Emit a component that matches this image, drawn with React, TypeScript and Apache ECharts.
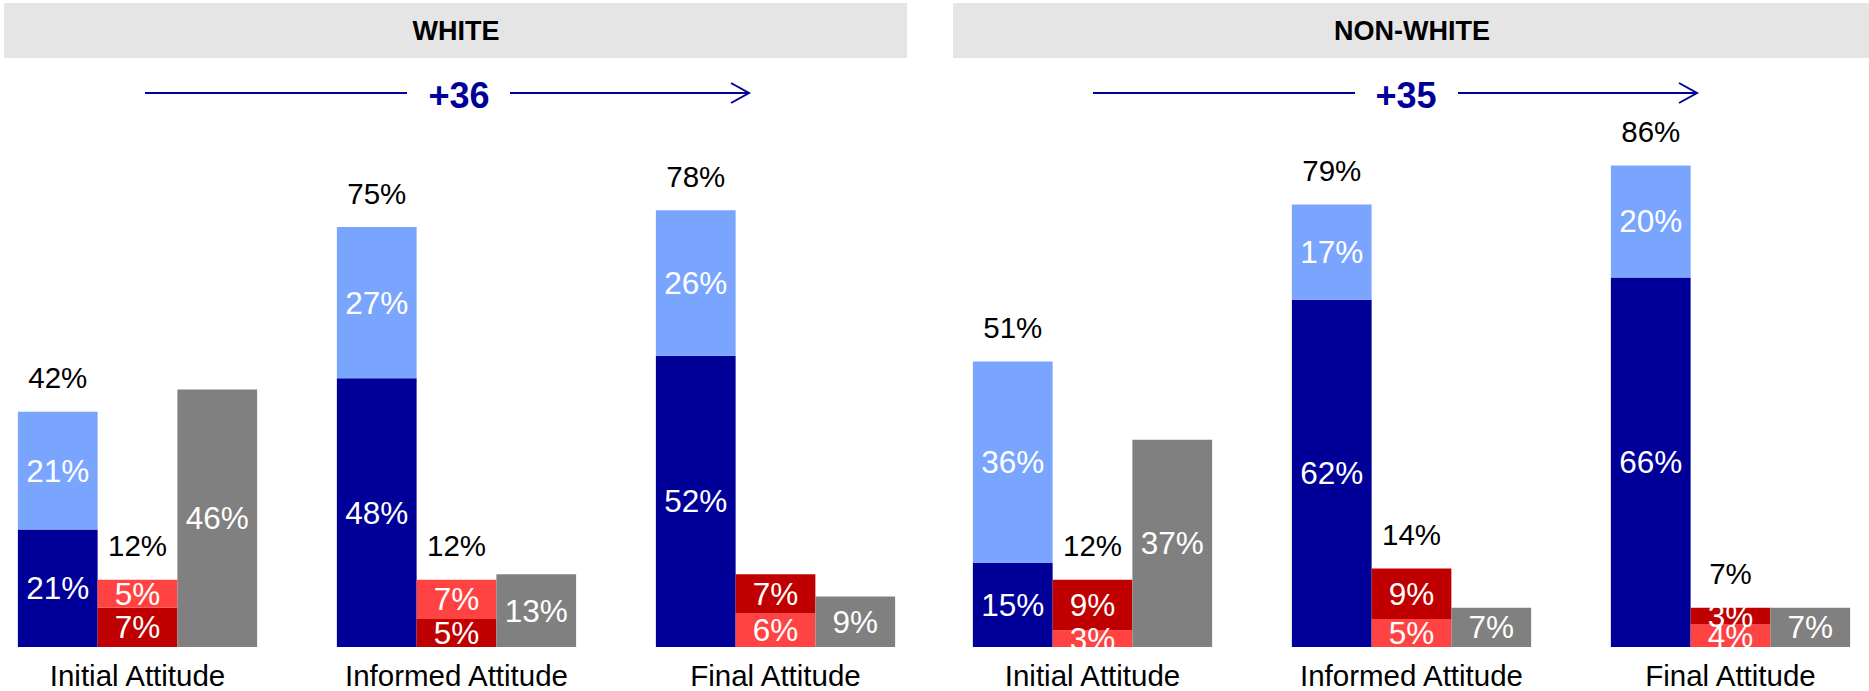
import React, { useEffect, useRef } from "react";
import * as echarts from "echarts";

const categories = ["Initial Attitude", "Informed Attitude", "Final Attitude"];

// WHITE panel
const whiteStrongSupport = [21, 48, 52];
const whiteSomewhatSupport = [21, 27, 26];
const whiteSupportTotal = [42, 75, 78];
const whiteOpposeLower = [7, 5, 6];
const whiteOpposeUpper = [5, 7, 7];
const whiteLowerIsStrong = [true, true, false];
const whiteOpposeTotal: (number | null)[] = [12, 12, null];
const whiteUnsure = [46, 13, 9];
const whiteGain = "+36";

// NON-WHITE panel
const nonWhiteStrongSupport = [15, 62, 66];
const nonWhiteSomewhatSupport = [36, 17, 20];
const nonWhiteSupportTotal = [51, 79, 86];
const nonWhiteOpposeLower = [3, 5, 4];
const nonWhiteOpposeUpper = [9, 9, 3];
const nonWhiteLowerIsStrong = [false, false, false];
const nonWhiteOpposeTotal: (number | null)[] = [12, 14, 7];
const nonWhiteUnsure = [37, 7, 7];
const nonWhiteGain = "+35";

const panelTitles = ["WHITE", "NON-WHITE"];

const DARK_BLUE = "#000099";
const LIGHT_BLUE = "#7AA5FF";
const DARK_RED = "#C00000";
const LIGHT_RED = "#FF4343";
const GREY = "#808080";
const BAND = "#E5E5E5";
const FONT = "'Liberation Sans', Arial, sans-serif";

type Panel = {
  strong: number[];
  somewhat: number[];
  supportTotal: number[];
  oppLower: number[];
  oppUpper: number[];
  lowerIsStrong: boolean[];
  oppTotal: (number | null)[];
  unsure: number[];
};

const panels: Panel[] = [
  {
    strong: whiteStrongSupport,
    somewhat: whiteSomewhatSupport,
    supportTotal: whiteSupportTotal,
    oppLower: whiteOpposeLower,
    oppUpper: whiteOpposeUpper,
    lowerIsStrong: whiteLowerIsStrong,
    oppTotal: whiteOpposeTotal,
    unsure: whiteUnsure,
  },
  {
    strong: nonWhiteStrongSupport,
    somewhat: nonWhiteSomewhatSupport,
    supportTotal: nonWhiteSupportTotal,
    oppLower: nonWhiteOpposeLower,
    oppUpper: nonWhiteOpposeUpper,
    lowerIsStrong: nonWhiteLowerIsStrong,
    oppTotal: nonWhiteOpposeTotal,
    unsure: nonWhiteUnsure,
  },
];

const insideLabel = {
  show: true,
  position: "inside",
  color: "#ffffff",
  fontSize: 31.5,
  fontFamily: FONT,
  formatter: (p: any) => `${p.value}%`,
};

function totalLabel(totals: (number | null)[]) {
  return {
    show: true,
    position: "top",
    distance: 19,
    color: "#000000",
    fontSize: 29.5,
    fontFamily: FONT,
    formatter: (p: any) => (totals[p.dataIndex] == null ? "" : `${totals[p.dataIndex]}%`),
  };
}

function buildSeries(panel: Panel, idx: number) {
  const common = {
    type: "bar",
    xAxisIndex: idx,
    yAxisIndex: idx,
    barGap: "0%",
    barCategoryGap: "25%",
  };
  const zeros = categories.map(() => 0);
  return [
    { ...common, name: `strong${idx}`, stack: `blue${idx}`, data: panel.strong, itemStyle: { color: DARK_BLUE }, label: insideLabel },
    { ...common, name: `somewhat${idx}`, stack: `blue${idx}`, data: panel.somewhat, itemStyle: { color: LIGHT_BLUE }, label: insideLabel },
    { ...common, name: `supportTotal${idx}`, stack: `blue${idx}`, data: zeros, itemStyle: { color: "transparent" }, label: totalLabel(panel.supportTotal) },
    {
      ...common,
      name: `oppLower${idx}`,
      stack: `red${idx}`,
      data: panel.oppLower.map((v, i) => ({ value: v, itemStyle: { color: panel.lowerIsStrong[i] ? DARK_RED : LIGHT_RED } })),
      label: insideLabel,
    },
    {
      ...common,
      name: `oppUpper${idx}`,
      stack: `red${idx}`,
      data: panel.oppUpper.map((v, i) => ({ value: v, itemStyle: { color: panel.lowerIsStrong[i] ? LIGHT_RED : DARK_RED } })),
      label: insideLabel,
    },
    { ...common, name: `oppTotal${idx}`, stack: `red${idx}`, data: zeros, itemStyle: { color: "transparent" }, label: totalLabel(panel.oppTotal) },
    { ...common, name: `unsure${idx}`, stack: `grey${idx}`, data: panel.unsure, itemStyle: { color: GREY }, label: insideLabel },
  ];
}

function arrow(x1: number, x2: number, x3: number, x4: number, cx: number, text: string) {
  const y = 93;
  return [
    { type: "line", shape: { x1, y1: y, x2, y2: y }, style: { stroke: DARK_BLUE, lineWidth: 2 } },
    { type: "line", shape: { x1: x3, y1: y, x2: x4, y2: y }, style: { stroke: DARK_BLUE, lineWidth: 2 } },
    {
      type: "polyline",
      shape: { points: [[x4 - 18, y - 10], [x4, y], [x4 - 18, y + 10]] },
      style: { stroke: DARK_BLUE, lineWidth: 2, fill: "none" },
    },
    {
      type: "text",
      x: cx,
      y: 95,
      style: {
        text,
        fill: DARK_BLUE,
        fontSize: 36,
        fontWeight: "bold",
        fontFamily: FONT,
        align: "center",
        verticalAlign: "middle",
        textAlign: "center",
        textVerticalAlign: "middle",
      },
    },
  ];
}

export default function App() {
  const ref = useRef<HTMLDivElement>(null);
  useEffect(() => {
    document.body.style.margin = "0";
    if (!ref.current) return;
    const chart = echarts.init(ref.current, undefined, { renderer: "svg" });
    const grids = [
      { left: -22, top: 87, width: 957, height: 560, outerBoundsMode: "none", containLabel: false },
      { left: 933, top: 87, width: 957, height: 560, outerBoundsMode: "none", containLabel: false },
    ];
    const xAxes = grids.map((_, i) => ({
      type: "category",
      gridIndex: i,
      data: categories,
      axisLine: { show: false },
      axisTick: { show: false },
      axisLabel: { color: "#000000", fontSize: 29.5, lineHeight: 30, fontFamily: FONT, margin: 13 },
    }));
    const yAxes = grids.map((_, i) => ({
      type: "value",
      gridIndex: i,
      min: 0,
      max: 100,
      show: false,
      splitLine: { show: false },
    }));
    const titleStyle = {
      fill: "#000",
      fontSize: 27,
      fontWeight: "bold",
      fontFamily: FONT,
      align: "center",
      verticalAlign: "middle",
      textAlign: "center",
      textVerticalAlign: "middle",
    };
    const graphic: any[] = [
      { type: "rect", shape: { x: 4, y: 3, width: 903, height: 55 }, style: { fill: BAND }, z: 50 },
      { type: "rect", shape: { x: 953, y: 3, width: 916, height: 55 }, style: { fill: BAND }, z: 50 },
      { type: "text", x: 456, y: 31, z: 51, style: { ...titleStyle, text: panelTitles[0] } },
      { type: "text", x: 1412, y: 31, z: 51, style: { ...titleStyle, text: panelTitles[1] } },
      ...arrow(145, 407, 510, 749, 459, whiteGain).map((g) => ({ ...g, z: 51 })),
      ...arrow(1093, 1355, 1458, 1697, 1406, nonWhiteGain).map((g) => ({ ...g, z: 51 })),
      // mask just under the baseline (labels of thin segments are clipped there)
      { type: "rect", shape: { x: 0, y: 647, width: 1869, height: 9 }, style: { fill: "#ffffff" }, z: 100 },
    ];
    chart.setOption({
      animation: false,
      grid: grids,
      xAxis: xAxes,
      yAxis: yAxes,
      series: [...buildSeries(panels[0], 0), ...buildSeries(panels[1], 1)],
      graphic,
    });
    return () => chart.dispose();
  }, []);
  return <div ref={ref} style={{ width: 1869, height: 691 }} />;
}
